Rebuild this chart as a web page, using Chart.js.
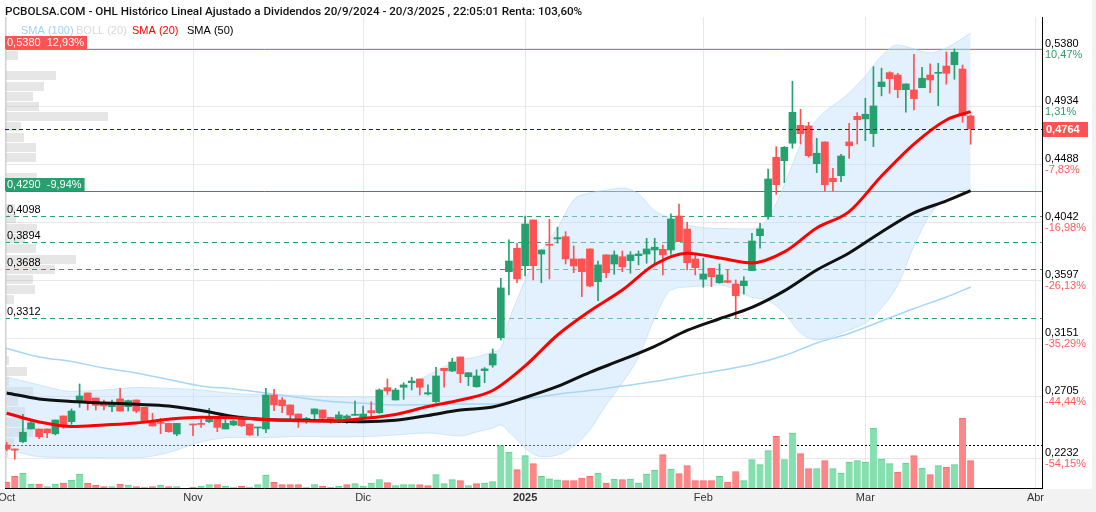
<!DOCTYPE html>
<html>
<head>
<meta charset="utf-8">
<script src="https://cdn.jsdelivr.net/npm/chart.js@4.4.1/dist/chart.umd.min.js"></script>
<style>
html,body{margin:0;padding:0;background:#fff;}
canvas{display:block;}
</style>
</head>
<body>
<canvas id="grafico" width="1096" height="512"></canvas>
<script>
// sesiones desde el 1/10/2024 (indice 0) hasta el 20/3/2025 (indice 119)
const meses = ['Oct','Nov','Dic','2025','Feb','Mar','Abr']
const mesIdx = [0,23,44,64,86,106,127]

const open = [
0.2334,0.2303,0.2359,0.2457,0.2457,0.2457,0.2420,0.2557,0.2513,0.2675,
0.2734,0.2695,0.2649,0.2628,0.2688,0.2628,0.2680,0.2624,0.2518,0.2505,
0.2500,0.2418,null,0.2495,0.2500,0.2513,0.2544,0.2457,0.2488,0.2539,
0.2495,0.2465,0.2457,0.2718,0.2680,0.2642,0.2572,0.2518,0.2572,0.2603,
0.2547,0.2534,0.2539,0.2562,0.2547,0.2598,0.2582,0.2775,0.2680,0.2778,
0.2813,0.2842,0.2726,0.2667,0.2924,0.2903,0.3011,0.2859,0.2782,0.2906,
0.2949,0.3159,0.3667,0.3847,0.3713,0.4065,0.3803,0.3878,0.3919,0.3936,
0.3765,0.3765,0.3842,0.3590,0.3796,0.3726,0.3782,0.3752,0.3790,0.3803,
0.3834,0.3839,0.3834,0.4095,0.3995,0.3765,0.3609,0.3693,0.3582,0.3598,
0.3572,0.3559,0.3675,0.3944,0.4090,0.4547,0.4521,0.4655,0.4793,0.4788,
0.4498,0.4665,0.4385,0.4405,0.4665,0.4862,0.4842,0.4729,0.5090,0.5198,
0.5180,0.5067,0.5065,0.5082,0.5180,0.5193,0.5249,0.5259,0.5226,0.4865]
const high = [
0.2355,0.2303,0.2570,0.2521,0.2457,0.2457,0.2526,0.2557,0.2611,0.2803,
0.2734,0.2695,0.2680,0.2680,0.2770,0.2680,0.2680,0.2624,0.2578,0.2539,
0.2500,0.2500,null,0.2495,0.2534,0.2616,0.2544,0.2539,0.2526,0.2557,
0.2495,0.2470,0.2770,0.2762,0.2698,0.2642,0.2572,0.2547,0.2611,0.2603,
0.2547,0.2590,0.2565,0.2672,0.2634,0.2667,0.2765,0.2842,0.2770,0.2813,
0.2855,0.2842,0.2796,0.2932,0.2924,0.3001,0.3011,0.2890,0.2911,0.2929,
0.3072,0.3616,0.3911,0.3885,0.4095,0.4065,0.3834,0.4070,0.4009,0.3975,
0.3865,0.3765,0.3842,0.3749,0.3796,0.3826,0.3826,0.3821,0.3826,0.3924,
0.3924,0.3872,0.4111,0.4186,0.4047,0.3801,0.3770,0.3693,0.3726,0.3685,
0.3603,0.3628,0.3962,0.4039,0.4457,0.4629,0.4629,0.5132,0.4916,0.4816,
0.4693,0.4665,0.4462,0.4570,0.4809,0.4890,0.5001,0.5244,0.5232,0.5205,
0.5193,0.5111,0.5339,0.5239,0.5265,0.5270,0.5357,0.5380,0.5257,0.4872]
const low = [
0.2290,0.2224,0.2352,0.2457,0.2382,0.2390,0.2411,0.2462,0.2493,0.2624,
0.2603,0.2603,0.2603,0.2590,0.2595,0.2595,0.2582,0.2518,0.2480,0.2421,
0.2432,0.2405,null,0.2405,0.2469,0.2505,0.2436,0.2457,0.2482,0.2475,
0.2405,0.2405,0.2428,0.2598,0.2582,0.2534,0.2469,0.2500,0.2526,0.2526,
0.2500,0.2505,0.2500,0.2562,0.2539,0.2539,0.2577,0.2723,0.2680,0.2685,
0.2757,0.2719,0.2719,0.2662,0.2778,0.2898,0.2813,0.2790,0.2778,0.2813,
0.2932,0.3142,0.3488,0.3582,0.3634,0.3603,0.3582,0.3611,0.3886,0.3726,
0.3659,0.3475,0.3552,0.3444,0.3621,0.3647,0.3667,0.3655,0.3719,0.3732,
0.3726,0.3642,0.3801,0.3898,0.3680,0.3642,0.3547,0.3552,0.3578,0.3582,
0.3308,0.3495,0.3675,0.3847,0.4070,0.4262,0.4352,0.4616,0.4649,0.4547,
0.4429,0.4286,0.4288,0.4359,0.4539,0.4649,0.4675,0.4629,0.5019,0.5039,
0.5005,0.4893,0.4911,0.5082,0.5044,0.4944,0.5109,0.5147,0.4816,0.4647]
const close = [
0.2303,0.2295,0.2432,0.2505,0.2398,0.2428,0.2526,0.2488,0.2595,0.2711,
0.2670,0.2639,0.2634,0.2649,0.2595,0.2675,0.2595,0.2518,0.2480,0.2500,
0.2436,0.2500,null,0.2488,0.2492,0.2539,0.2469,0.2500,0.2518,0.2482,
0.2411,0.2470,0.2718,0.2642,0.2636,0.2565,0.2534,0.2539,0.2611,0.2539,
0.2526,0.2565,0.2557,0.2570,0.2572,0.2582,0.2757,0.2749,0.2757,0.2796,
0.2826,0.2778,0.2736,0.2865,0.2906,0.2972,0.2882,0.2890,0.2865,0.2919,
0.3034,0.3542,0.3749,0.3611,0.4034,0.3713,0.3834,0.3870,0.3929,0.3765,
0.3711,0.3667,0.3557,0.3719,0.3659,0.3796,0.3705,0.3796,0.3803,0.3842,
0.3855,0.3796,0.4072,0.3898,0.3736,0.3698,0.3649,0.3628,0.3642,0.3585,
0.3482,0.3595,0.3903,0.3996,0.4380,0.4336,0.4624,0.4893,0.4729,0.4559,
0.4578,0.4336,0.4359,0.4557,0.4636,0.4836,0.4878,0.4942,0.5126,0.5152,
0.5067,0.5111,0.4998,0.5155,0.5142,0.5198,0.5193,0.5355,0.4867,0.4764]
const vol = [
6,11.7,15,4,4,1.5,4,5,8,14,
5,2.7,1.5,1.5,4,3,1.5,0.5,1.5,3,
1.5,1.5,0,1,2,3.3,3.3,2,0.5,2,
0.5,3.3,13,5.7,3.3,3.3,3.3,0.5,3.3,2,
0.5,2,3.3,4.3,2,5,8.5,5.3,2.3,3.3,
3.3,3.3,2.3,13.3,4.3,8.3,7.3,2.3,4.3,5,
6.3,42.3,36,18.3,32.3,24.3,11.7,9.2,8.2,7.3,
7.3,10,11.7,15,5,9,8.3,9,5,14,
18,33.3,19,14.3,22.3,7.3,7.3,7.3,11.7,6,
16.5,7.3,28.3,23.3,37.3,51.7,28.3,55,34.3,19.3,
19.3,27.3,19.3,15,26,27.3,26,60,29,24.3,
16,25,32.3,20,13.3,22.3,21,23.3,70,27.3]
const volRef = 43.5

// medias moviles
const smaIdx = [0,4,8,12,16,20,24,28,32,36,40,44,48,52,56,60,64,68,72,76,80,84,88,92,96,100,104,108,112,116,119]
const sma20 = [0.2578,0.2511,0.2476,0.2488,0.2503,0.2532,0.2547,0.2543,0.2529,0.2520,0.2518,0.2538,0.2569,0.2630,0.2680,0.2753,0.2942,0.3180,0.3365,0.3526,0.3722,0.3809,0.3772,0.3734,0.3819,0.4003,0.4129,0.4403,0.4649,0.4834,0.4898]
const sma50 = [0.2734,0.2688,0.2669,0.2657,0.2647,0.2634,0.2599,0.2553,0.2530,0.2524,0.2518,0.2513,0.2524,0.2561,0.2603,0.2626,0.2699,0.2784,0.2893,0.2990,0.3093,0.3215,0.3305,0.3392,0.3519,0.3680,0.3811,0.3972,0.4119,0.4211,0.4290]
const sma100 = [0.3076,0.3011,0.2976,0.2926,0.2888,0.2838,0.2788,0.2765,0.2734,0.2699,0.2668,0.2655,0.2642,0.2645,0.2649,0.2649,0.2688,0.2724,0.2753,0.2788,0.2822,0.2866,0.2907,0.2953,0.3022,0.3119,0.3192,0.3288,0.3384,0.3472,0.3549]

// bandas de bollinger (20)
const bbIdx = [0,4,8,12,16,20,24,28,32,36,40,44,48,52,56,58,60,61,62,63,64,66,68,70,72,74,76,78,80,82,84,88,92,94,96,98,100,104,106,108,110,112,114,116,119]
const bbUp = [0.2857,0.2796,0.2746,0.2757,0.2776,0.2770,0.2757,0.2730,0.2722,0.2715,0.2705,0.2701,0.2734,0.2872,0.2988,0.3011,0.3049,0.3080,0.3296,0.3449,0.3603,0.3826,0.4003,0.4219,0.4272,0.4295,0.4311,0.4265,0.4134,0.4080,0.4026,0.3999,0.3996,0.4080,0.4334,0.4642,0.4834,0.5042,0.5172,0.5326,0.5411,0.5380,0.5349,0.5388,0.5503]
const bbLo = [0.2303,0.2244,0.2238,0.2236,0.2236,0.2276,0.2357,0.2392,0.2392,0.2399,0.2396,0.2398,0.2411,0.2426,0.2403,0.2434,0.2465,0.2488,0.2434,0.2372,0.2311,0.2244,0.2257,0.2326,0.2449,0.2642,0.2811,0.3011,0.3311,0.3526,0.3549,0.3565,0.3469,0.3446,0.3349,0.3196,0.3142,0.3219,0.3272,0.3388,0.3565,0.3865,0.4103,0.4242,0.4311]

// perfil de volumen por precio
const perfilPrecio = [0.5328,0.5250,0.5172,0.5093,0.5015,0.4937,0.4859,0.4780,0.4702,0.4624,0.4545,0.4467,0.4389,0.4311,0.4232,0.4154,0.4076,0.3998,0.3919,0.3841,0.3763,0.3685,0.3606,0.3528,0.3450,0.3372,0.3293,0.3215,0.3137,0.3058,0.2980,0.2902,0.2824,0.2745,0.2667,0.2589,0.2510,0.2432,0.2354,0.2276]
const perfilVol = [13,0,51,39,28,34,103,16,19,31,31,0,32,20,0,10,11,32,20,31,71,50,28,30,9,0,0,0,0,2,4,22,4,28,13,20,17,28,9,3]
const perfilPaso = 0.0078

// niveles y etiquetas
const tickVals = [0.5380,0.4934,0.4488,0.4042,0.3597,0.3151,0.2705,0.2232]
const tickPct = ['10,47%','1,31%','-7,83%','-16,98%','-26,13%','-35,29%','-44,44%','-54,15%']
const maximo = 0.5380, maximoPct = '12,93%'
const ultimo = 0.4764
const media50 = 0.4290, media50Pct = '-9,94%'
const soportes = [0.4098,0.3894,0.3688,0.3312]

const titulo = 'PCBOLSA.COM - OHL Histórico Lineal Ajustado a Dividendos 20/9/2024 - 20/3/2025 , 22:05:01 Renta: 103,60%'
const leyenda = [['SMA (100)','#9fd3f7'],['BOLL (20)','#d8d8d8'],['SMA (20)','#ff0000'],['SMA (50)','#000000']]

const VERDE = '#26a06e', ROJO = '#ff5252'
const FUENTE = '"Liberation Sans", Arial, sans-serif'

function coma(v) { return v.toFixed(4).replace('.', ',') }
function pts(idx, vals) { return idx.map((x, k) => ({x: x, y: vals[k]})) }

let velas = [], mechas = [], barrasVol = []
for (let i = 0; i < close.length; i++) {
    if (close[i] == null) continue
    let sube = close[i] >= open[i]
    let prev = open[i]
    for (let j = i - 1; j >= 0; j--) { if (close[j] != null) { prev = close[j]; break } }
    velas.push({x: i, y: [open[i], close[i]], c: sube ? VERDE : ROJO})
    mechas.push({x: i, y: [low[i], high[i]], c: sube ? VERDE : ROJO})
    barrasVol.push({x: i, y: vol[i], c: close[i] >= prev ? '#86dfae' : '#fe8686', b: close[i] >= prev ? '#5ccf8c' : '#f86a6a'})
}

function linea(ctx, y, x0, x1, color, dash) {
    ctx.save()
    ctx.strokeStyle = color
    ctx.lineWidth = 1
    ctx.setLineDash(dash)
    ctx.beginPath()
    ctx.moveTo(x0, Math.round(y) + 0.5)
    ctx.lineTo(x1, Math.round(y) + 0.5)
    ctx.stroke()
    ctx.restore()
}

const extras = {
    id: 'extras',
    beforeDraw(chart) {
        let c = chart.ctx, a = chart.chartArea
        c.save()
        c.fillStyle = '#fff'
        c.fillRect(0, 0, chart.width, chart.height)
        c.fillStyle = '#f2f2f2'
        c.fillRect(0, a.bottom + 1, chart.width, chart.height - a.bottom)
        c.fillRect(1092, 0, chart.width - 1092, chart.height)
        c.restore()
    },
    beforeDatasetsDraw(chart) {
        let c = chart.ctx, a = chart.chartArea, y = chart.scales.y
        // perfil
        let h = Math.abs(y.getPixelForValue(0) - y.getPixelForValue(perfilPaso))
        c.save()
        c.fillStyle = 'rgba(185,185,185,0.36)'
        perfilPrecio.forEach((p, k) => {
            if (!perfilVol[k]) return
            let py = y.getPixelForValue(p)
            c.fillRect(a.left, Math.round(py - h * 0.45), perfilVol[k], Math.round(h * 0.9))
        })
        c.restore()
        // niveles
        linea(c, y.getPixelForValue(maximo), a.left, a.right, '#ff5a5a', [])
        linea(c, y.getPixelForValue(media50), a.left, a.right, '#2e9068', [])
        soportes.forEach(v => linea(c, y.getPixelForValue(v), a.left, a.right, '#2e9e6b', [5, 4]))
        linea(c, chart.scales.yv.getPixelForValue(volRef), a.left, a.right, '#000', [2, 2])
        // borde izquierdo
        c.save()
        c.strokeStyle = '#d0d0d0'
        c.beginPath()
        c.moveTo(a.left + 0.5, a.top)
        c.lineTo(a.left + 0.5, a.bottom)
        c.stroke()
        c.restore()
    },
    afterDatasetsDraw(chart) {
        let c = chart.ctx, a = chart.chartArea, y = chart.scales.y
        linea(c, y.getPixelForValue(ultimo), a.left, a.right, '#1414d2', [4, 3])
    },
    afterDraw(chart) {
        let c = chart.ctx, a = chart.chartArea, y = chart.scales.y, x = chart.scales.x
        c.save()
        c.textBaseline = 'middle'
        // titulo y leyenda
        c.font = '500 11.65px Roboto, ' + FUENTE
        c.fillStyle = '#111'
        c.textAlign = 'left'
        c.fillText(titulo, 5, 12)
        c.font = '11px ' + FUENTE
        let lx = [21, 76, 132, 187]
        leyenda.forEach((l, k) => { c.fillStyle = l[1]; c.fillText(l[0], lx[k], 31) })

        // etiquetas eje derecho
        tickVals.forEach((v, k) => {
            let py = y.getPixelForValue(v)
            c.fillStyle = '#000'
            c.fillText(coma(v), a.right + 3, py - 5.5)
            c.fillStyle = tickPct[k].startsWith('-') ? '#ff5a5a' : '#2e9e6b'
            c.fillText(tickPct[k], a.right + 3, py + 5.5)
        })
        // precio actual
        let pu = y.getPixelForValue(ultimo)
        c.fillStyle = ROJO
        c.fillRect(a.right + 1, Math.round(pu) - 7, 45, 15)
        c.fillStyle = '#fff'
        c.font = 'bold 11px ' + FUENTE
        c.fillText(coma(ultimo), a.right + 4, pu + 0.5)

        // cajas izquierda
        function caja(v, txt, color) {
            let py = Math.round(y.getPixelForValue(v))
            c.font = '11px ' + FUENTE
            let w = c.measureText(txt).width + 5
            c.fillStyle = color
            c.fillRect(a.left, py - 13, w, 13)
            c.fillStyle = '#fff'
            c.fillText(txt, a.left + 2, py - 6)
        }
        caja(maximo, coma(maximo) + '  ' + maximoPct, ROJO)
        caja(media50, coma(media50) + '  ' + media50Pct, '#26a06e')
        c.font = '11px ' + FUENTE
        c.fillStyle = '#000'
        c.textBaseline = 'bottom'
        soportes.forEach(v => c.fillText(coma(v), a.left + 2, Math.round(y.getPixelForValue(v)) - 1))

        // meses
        c.textBaseline = 'middle'
        c.textAlign = 'center'
        c.fillStyle = '#333'
        meses.forEach((m, k) => {
            c.font = (m == '2025' ? 'bold ' : '') + '11px ' + FUENTE
            c.fillText(m, x.getPixelForValue(mesIdx[k]), 498)
        })
        c.restore()
    }
}

const lineaBase = {type: 'line', pointRadius: 0, borderJoinStyle: 'round', cubicInterpolationMode: 'monotone'}

new Chart(document.getElementById('grafico'), {
    type: 'line',
    data: {
        datasets: [
            Object.assign({}, lineaBase, {data: pts(bbIdx, bbUp), borderColor: 'rgba(175,215,245,0.55)', borderWidth: 1, fill: '+1', backgroundColor: 'rgba(190,225,250,0.45)', order: 9}),
            Object.assign({}, lineaBase, {data: pts(bbIdx, bbLo), borderColor: 'rgba(175,215,245,0.55)', borderWidth: 1, fill: false, order: 9}),
            Object.assign({}, lineaBase, {data: pts(smaIdx, sma100), borderColor: '#a6d6f8', borderWidth: 1.5, fill: false, order: 7}),
            {type: 'bar', data: barrasVol, yAxisID: 'yv', grouped: false, barThickness: 7, order: 8,
                backgroundColor: ctx => ctx.raw ? ctx.raw.c : '#ccc',
                borderColor: ctx => ctx.raw ? ctx.raw.b : '#ccc',
                borderWidth: {top: 1, left: 0, right: 0, bottom: 0}, borderSkipped: 'bottom'},
            {type: 'bar', data: mechas, grouped: false, barThickness: 1, order: 5,
                backgroundColor: ctx => ctx.raw ? ctx.raw.c : '#000'},
            {type: 'bar', data: velas, grouped: false, barThickness: 7, minBarLength: 1, order: 4,
                backgroundColor: ctx => ctx.raw ? ctx.raw.c : '#000'},
            Object.assign({}, lineaBase, {data: pts(smaIdx, sma50), borderColor: '#111', borderWidth: 3, fill: false, order: 2}),
            Object.assign({}, lineaBase, {data: pts(smaIdx, sma20), borderColor: '#ff0000', borderWidth: 3, fill: false, order: 1})
        ]
    },
    options: {
        responsive: false,
        animation: false,
        devicePixelRatio: 1,
        layout: {padding: {left: 5, right: 54, top: 17, bottom: 24}},
        plugins: {legend: {display: false}, tooltip: {enabled: false}},
        scales: {
            x: {
                type: 'linear', position: 'bottom', min: -0.21, max: 127.81, offset: false,
                grid: {color: '#e8e8e8', offset: false, drawTicks: false},
                ticks: {display: false},
                border: {color: '#000'},
                afterBuildTicks: s => { s.ticks = mesIdx.map(v => ({value: v})) }
            },
            y: {
                position: 'right', min: 0.2003, max: 0.5626,
                grid: {color: '#e8e8e8', drawTicks: false},
                ticks: {display: false},
                border: {color: '#000'},
                afterBuildTicks: s => { s.ticks = tickVals.map(v => ({value: v})) }
            },
            yv: {display: false, min: 0, max: 471}
        }
    },
    plugins: [extras]
})
</script>
</body>
</html>
